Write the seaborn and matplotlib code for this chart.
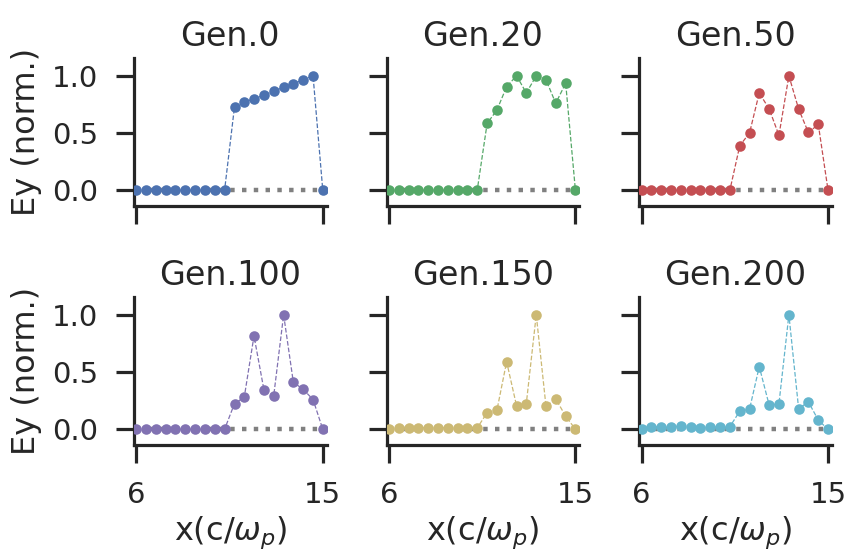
import matplotlib
matplotlib.use("Agg")
import matplotlib.pyplot as plt
import seaborn as sns
import numpy as np
import pandas as pd

# sample positions along x (c/omega_p)
x_pos = [6.00, 6.47, 6.95, 7.42, 7.89, 8.37, 8.84, 9.32, 9.79, 10.26,
         10.74, 11.21, 11.68, 12.16, 12.63, 13.11, 13.58, 14.05, 14.53, 15.00]

generations = ["Gen.0", "Gen.20", "Gen.50", "Gen.100", "Gen.150", "Gen.200"]

ey_gen0 = [0, 0, 0, 0, 0, 0, 0, 0, 0, 0,
           0.73, 0.77, 0.80, 0.83, 0.865, 0.90, 0.93, 0.965, 1.0, 0]
ey_gen20 = [0, 0, 0, 0, 0, 0, 0, 0, 0, 0,
            0.585, 0.70, 0.905, 1.0, 0.85, 1.0, 0.965, 0.76, 0.935, 0]
ey_gen50 = [0, 0, 0, 0, 0, 0, 0, 0, 0, 0,
            0.39, 0.50, 0.85, 0.71, 0.48, 1.0, 0.71, 0.505, 0.575, 0]
ey_gen100 = [0, 0, 0, 0, 0, 0, 0, 0, 0, 0,
             0.225, 0.28, 0.815, 0.345, 0.29, 1.0, 0.41, 0.35, 0.26, 0]
ey_gen150 = [0, 0.015, 0.015, 0.012, 0.015, 0.015, 0.012, 0.015, 0.015, 0.012,
             0.145, 0.165, 0.59, 0.205, 0.225, 1.0, 0.20, 0.265, 0.115, 0]
ey_gen200 = [0, 0.023, 0.023, 0.018, 0.029, 0.023, 0.015, 0.018, 0.018, 0.023,
             0.158, 0.175, 0.547, 0.21, 0.222, 1.0, 0.18, 0.24, 0.08, 0]

series = [ey_gen0, ey_gen20, ey_gen50, ey_gen100, ey_gen150, ey_gen200]
colours = ["#4C72B0", "#55A868", "#C44E52", "#8172B2", "#CCB974", "#64B5CD"]

sns.set_theme(style="ticks", context="poster")
plt.rcParams.update({
    "axes.linewidth": 2.3,
    "xtick.major.size": 13, "ytick.major.size": 13,
    "xtick.major.width": 2.3, "ytick.major.width": 2.3,
    "xtick.labelsize": 21, "ytick.labelsize": 21,
    "axes.titlesize": 24, "axes.labelsize": 23,
})

fig, axes = plt.subplots(2, 3, figsize=(8.45, 5.5), dpi=100, sharex=True, sharey=True)
fig.subplots_adjust(left=0.1586, right=0.9846, top=0.8945, bottom=0.1909,
                    wspace=0.311, hspace=0.615)

for ax, name, ey, col in zip(axes.flat, generations, series, colours):
    df = pd.DataFrame({"x": x_pos, "ey": ey})
    ax.plot([x_pos[0], x_pos[-1]], [0, 0], linestyle=":", color="grey",
            linewidth=3.2, zorder=1)
    sns.lineplot(data=df, x="x", y="ey", ax=ax, color=col, linestyle="--",
                 linewidth=0.9, marker="o", markersize=7.6,
                 markeredgewidth=0, zorder=3)
    ax.set_title(name, pad=9)
    ax.set_xlabel("")
    ax.set_ylabel("")

for ax in axes.flat:
    ax.set_xlim(5.89, 15.19)
    ax.set_ylim(-0.137, 1.155)
    ax.set_xticks([6, 15])
    ax.set_yticks([0.0, 0.5, 1.0])
    ax.set_yticklabels(["0.0", "0.5", "1.0"])
    sns.despine(ax=ax)
    ax.tick_params(axis="x", pad=13)
    ax.tick_params(axis="y", pad=13)

for ax in axes[0]:
    ax.tick_params(labelbottom=False)
for ax in axes[:, 0]:
    ax.set_ylabel("Ey (norm.)", labelpad=7)
for ax in axes[1]:
    ax.set_xlabel(r"x(c/$\omega_p$)", labelpad=4)

fig.savefig("out.png", dpi=100)
